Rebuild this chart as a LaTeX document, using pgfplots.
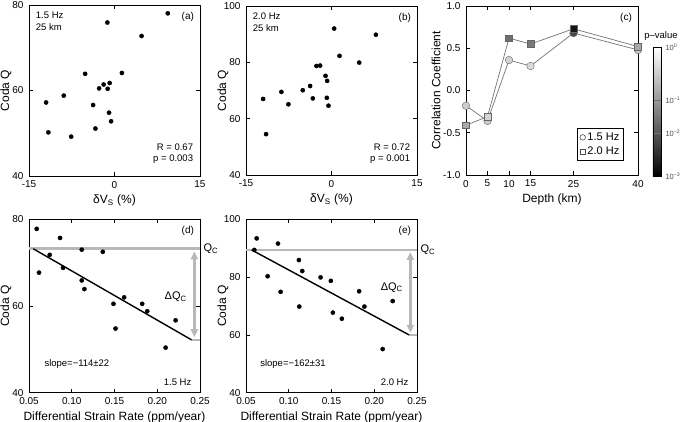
\documentclass[border=0pt]{standalone}
\usepackage{fontspec}
\setmainfont{Liberation Sans}
\usepackage{pgfplots}
\pgfplotsset{compat=1.18}
\usetikzlibrary{arrows.meta}

\definecolor{qgray}{gray}{0.72}
\pgfplotsset{
  panel/.style={
    scale only axis,
    anchor=south west,
    axis line style={line width=0.8pt},
    tick align=inside,
    major tick length=4pt,
    minor tick num=0,
    tick style={black, line width=0.6pt},
    ticklabel style={font=\fontsize{10}{12}\selectfont},
    xticklabel style={yshift=-1.5pt},
    yticklabel style={xshift=-2pt},
    label style={font=\fontsize{12}{14}\selectfont},
    ylabel style={at={(rel axis cs:0,0.5)}, anchor=center, yshift=23pt},
    /pgf/number format/assume math mode=true,
    clip=false,
  },
  dots/.style={only marks, mark=*, mark size=2.1pt, black},
}

\begin{document}
\begin{tikzpicture}
\useasboundingbox (0,0) rectangle (685pt,422pt);

% ---------------- (a)
\begin{axis}[panel, at={(29pt,246pt)}, width=171pt, height=171pt,
  xmin=-15, xmax=15, ymin=40, ymax=80,
  xtick={-15,0,15}, ytick={40,60,80},
  xlabel={δV\textsubscript{S} (\%)}, ylabel={Coda Q}]
\addplot[dots] table {
x y
9.35 78.05
-1.25 75.9
4.75 72.75
-5.15 63.9
1.3 64.1
-1.9 61.4
-0.85 61.75
-2.7 60.5
-1.2 60.4
-12.0 57.2
-8.9 58.8
-3.75 56.6
-0.96 54.8
-0.6 52.8
-11.6 50.2
-3.35 51.1
-7.6 49.2
};
\node[anchor=north west, align=left, font=\fontsize{9.5}{12}\selectfont] at (rel axis cs:0.02,0.98) {1.5 Hz\\25 km};
\node[anchor=north east, font=\fontsize{10}{12}\selectfont] at (rel axis cs:0.985,0.98) {(a)};
\node[anchor=south east, align=right, font=\fontsize{9.5}{11}\selectfont] at (rel axis cs:0.98,0.05) {R = 0.67\\p = 0.003};
\end{axis}

% ---------------- (b)
\begin{axis}[panel, at={(246pt,247pt)}, width=171pt, height=169pt,
  xmin=-15, xmax=15, ymin=40, ymax=100,
  xtick={-15,0,15}, ytick={40,60,80,100},
  xlabel={δV\textsubscript{S} (\%)}, ylabel={Coda Q}]
\addplot[dots] table {
x y
0.47 92.0
7.79 89.8
1.41 82.3
4.86 79.9
-2.64 78.7
-1.99 78.85
-1.05 75.2
-0.76 73.4
-12.0 67.0
-8.79 69.5
-5.04 70.1
-3.75 71.6
-3.28 67.2
-0.82 67.4
-0.53 64.6
-7.56 65.1
-11.48 54.5
};
\node[anchor=north west, align=left, font=\fontsize{9.5}{12}\selectfont] at (rel axis cs:0.02,0.98) {2.0 Hz\\25 km};
\node[anchor=north east, font=\fontsize{10}{12}\selectfont] at (rel axis cs:0.985,0.98) {(b)};
\node[anchor=south east, align=right, font=\fontsize{9.5}{11}\selectfont] at (rel axis cs:0.98,0.05) {R = 0.72\\p = 0.001};
\end{axis}

% ---------------- (c)
\begin{axis}[panel, at={(466pt,247pt)}, width=172pt, height=169pt,
  xmin=0, xmax=40, ymin=-1, ymax=1,
  xtick={0,5,10,15,25,40}, ytick={-1,-0.5,0,0.5,1},
  yticklabel style={/pgf/number format/.cd, fixed, fixed zerofill, precision=1},
  xlabel={Depth (km)}, ylabel={Correlation Coefficient},
  ylabel style={yshift=7pt},
  colormap={pv}{gray(0cm)=(0); gray(1cm)=(1)},
  point meta min=0, point meta max=1,
  colorbar,
  colorbar style={
    scale only axis,
    at={(1.087,-0.01)}, anchor=south west,
    width=8pt, height=129pt,
    axis line style={line width=0.6pt},
    ytick={0,0.336,0.589,1},
    yticklabels={10\textsuperscript{−3},10\textsuperscript{−2},10\textsuperscript{−1},10\textsuperscript{0}},
    yticklabel style={font=\fontsize{7.5}{9}\selectfont, text=black!70, xshift=1pt},
    major tick length=8pt,
    tick align=inside,
    ytick style={black!55, line width=0.8pt},
    title={p–value},
    title style={font=\fontsize{9.5}{11}\selectfont, yshift=-2pt, xshift=4pt},
  },
  legend style={at={(0.919,0.278)}, anchor=north east, draw=black, line width=0.6pt,
    font=\fontsize{11}{13}\selectfont, inner sep=2.5pt, row sep=1pt},
  legend cell align=left]
\addplot[forget plot, draw=black!55, line width=0.7pt] table {
x y
0 -0.18
5 -0.36
10 0.36
15 0.29
25 0.68
40 0.48
};
\addplot[forget plot, draw=black!55, line width=0.7pt] table {
x y
0 -0.41
5 -0.31
10 0.62
15 0.55
25 0.73
40 0.52
};
\addplot[forget plot, scatter, only marks, mark=*, mark size=3.8pt,
  scatter/use mapped color={draw=black!60, fill=mapped color},
  point meta=explicit] table[meta=m] {
x y m
0 -0.18 0.80
5 -0.36 0.80
10 0.36 0.82
15 0.29 0.85
25 0.68 0.28
40 0.48 0.78
};
\addplot[forget plot, scatter, only marks, mark=square*, mark size=3.4pt,
  scatter/use mapped color={draw=black!60, fill=mapped color},
  point meta=explicit] table[meta=m] {
x y m
0 -0.41 0.66
5 -0.31 0.82
10 0.62 0.43
15 0.55 0.47
25 0.73 0.08
40 0.52 0.66
};
\addlegendimage{only marks, mark=o, mark size=2.8pt, black!70}
\addlegendentry{1.5 Hz}
\addlegendimage{only marks, mark=square, mark size=2.6pt, black!70}
\addlegendentry{2.0 Hz}
\node[anchor=north east, font=\fontsize{10}{12}\selectfont] at (rel axis cs:0.985,0.98) {(c)};
\end{axis}

% ---------------- (d)
\begin{axis}[panel, at={(29pt,29.3pt)}, width=171pt, height=173.4pt,
  xmin=0.05, xmax=0.25, ymin=40, ymax=80,
  xtick={0.05,0.10,0.15,0.20,0.25}, ytick={40,60,80},
  xticklabel style={/pgf/number format/.cd, fixed, fixed zerofill, precision=2},
  xlabel={Differential Strain Rate (ppm/year)}, ylabel={Coda Q}]
\addplot[qgray, line width=2.6pt] coordinates {(0.05,73.2) (0.25,73.2)};
\addplot[qgray, line width=2.6pt] coordinates {(0.240,52.2) (0.25,52.2)};
\addplot[qgray, line width=2.4pt, {Triangle[length=8pt,width=7pt]}-{Triangle[length=8pt,width=7pt]}] coordinates {(0.2434,72.6) (0.2434,52.8)};
\addplot[black, line width=1.4pt] coordinates {(0.055,73.2) (0.240,52.2)};
\addplot[dots] table {
x y
0.059 77.8
0.0617 67.7
0.0742 71.8
0.0863 75.7
0.0898 68.8
0.1117 73.0
0.1117 65.9
0.1148 63.9
0.1363 72.5
0.1488 60.5
0.1512 54.8
0.1613 62.0
0.1824 60.5
0.1883 58.8
0.2215 56.7
0.2098 50.4
};
\node[anchor=west, font=\fontsize{11}{13}\selectfont] at (axis cs:0.25,73.2) {Q\textsubscript{C}};
\node[anchor=east, font=\fontsize{11}{13}\selectfont] at (axis cs:0.2385,62.1) {ΔQ\textsubscript{C}};
\node[anchor=west, font=\fontsize{9.5}{11}\selectfont] at (rel axis cs:0.07,0.165) {slope=−114±22};
\node[anchor=south east, font=\fontsize{9.5}{11}\selectfont] at (rel axis cs:0.97,0.02) {1.5 Hz};
\node[anchor=north east, font=\fontsize{10}{12}\selectfont] at (rel axis cs:0.985,0.98) {(d)};
\end{axis}

% ---------------- (e)
\begin{axis}[panel, at={(246pt,29.3pt)}, width=171pt, height=173.4pt,
  xmin=0.05, xmax=0.25, ymin=40, ymax=100,
  xtick={0.05,0.10,0.15,0.20,0.25}, ytick={40,60,80,100},
  xticklabel style={/pgf/number format/.cd, fixed, fixed zerofill, precision=2},
  xlabel={Differential Strain Rate (ppm/year)}, ylabel={Coda Q}]
\addplot[qgray, line width=2.6pt] coordinates {(0.05,89.4) (0.25,89.4)};
\addplot[qgray, line width=2.6pt] coordinates {(0.2407,60.0) (0.25,60.0)};
\addplot[qgray, line width=2.4pt, {Triangle[length=8pt,width=7pt]}-{Triangle[length=8pt,width=7pt]}] coordinates {(0.2422,88.7) (0.2422,60.7)};
\addplot[black, line width=1.4pt] coordinates {(0.0566,89.4) (0.2407,60.0)};
\addplot[dots] table {
x y
0.0625 93.4
0.0597 89.4
0.0753 80.3
0.0874 91.6
0.0905 74.9
0.1119 85.9
0.1158 82.1
0.1123 69.8
0.1372 79.9
0.1492 78.7
0.1516 67.7
0.1621 65.6
0.1823 75.1
0.1885 69.8
0.2216 71.7
0.2099 55.1
};
\node[anchor=west, font=\fontsize{11}{13}\selectfont] at (axis cs:0.25,89.4) {Q\textsubscript{C}};
\node[anchor=east, font=\fontsize{11}{13}\selectfont] at (axis cs:0.2375,76.5) {ΔQ\textsubscript{C}};
\node[anchor=west, font=\fontsize{9.5}{11}\selectfont] at (rel axis cs:0.063,0.165) {slope=−162±31};
\node[anchor=south east, font=\fontsize{9.5}{11}\selectfont] at (rel axis cs:0.97,0.02) {2.0 Hz};
\node[anchor=north east, font=\fontsize{10}{12}\selectfont] at (rel axis cs:0.985,0.98) {(e)};
\end{axis}
\end{tikzpicture}
\end{document}
